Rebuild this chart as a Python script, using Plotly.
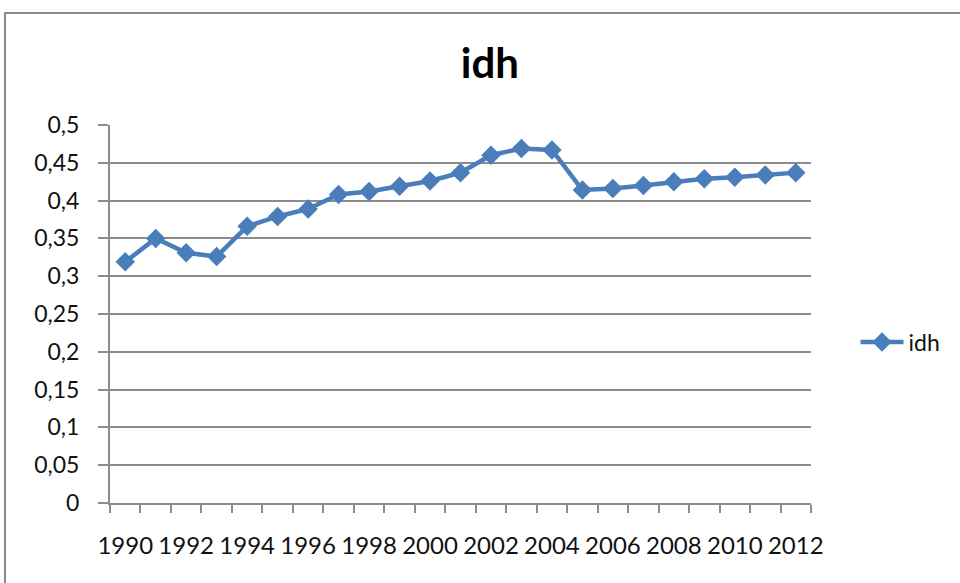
import plotly.graph_objects as go

years = list(range(1990, 2013))
idh = [0.319, 0.350, 0.331, 0.326, 0.366, 0.379, 0.389, 0.408, 0.412, 0.419,
       0.426, 0.437, 0.460, 0.469, 0.467, 0.414, 0.416, 0.420, 0.425, 0.429,
       0.431, 0.434, 0.437]
series_name = "idh"
title_text = "idh"
x_labels = years[::2]
y_ticks = [0, 0.05, 0.1, 0.15, 0.2, 0.25, 0.3, 0.35, 0.4, 0.45, 0.5]

BLUE = "#4A7EBB"
GRID = "#8C8C8C"
FONT = "Lato"

fig = go.Figure()
fig.add_trace(go.Scatter(
    x=years, y=idh, name=series_name, mode="lines+markers",
    line=dict(color=BLUE, width=4.5),
    marker=dict(symbol="diamond", size=15, color=BLUE, line=dict(width=0)),
    showlegend=True,
))

boundaries = [y - 0.5 for y in years] + [years[-1] + 0.5]

fig.update_layout(
    width=960, height=583,
    margin=dict(l=110, r=149, t=125, b=80, pad=0),
    paper_bgcolor="white", plot_bgcolor="white",
    separators=", ",
    font=dict(family=FONT, size=23, color="#111111"),
    title=dict(text="<b>" + title_text + "</b>", xref="paper", x=0.542, xanchor="center",
               yref="container", y=1 - 63 / 583, yanchor="middle",
               font=dict(family=FONT, size=42, color="black")),
    showlegend=True,
    legend=dict(x=1.0635, xanchor="left", y=0.426, yanchor="middle",
                itemwidth=43,
                font=dict(family=FONT, size=23, color="#111111"),
                bgcolor="rgba(0,0,0,0)", borderwidth=0),
    xaxis=dict(
        range=[boundaries[0], boundaries[-1]],
        tickvals=x_labels, ticktext=[str(v) for v in x_labels],
        tickfont=dict(size=24),
        ticks="outside", ticklen=20, tickcolor="rgba(0,0,0,0)",
        showgrid=False, zeroline=False,
        showline=True, linecolor=GRID, linewidth=2,
        minor=dict(tickvals=boundaries, ticks="outside", ticklen=8,
                   tickcolor=GRID, tickwidth=2, showgrid=False),
    ),
    yaxis=dict(
        range=[0, 0.5], tickvals=y_ticks,
        ticks="outside", ticklen=10, tickcolor=GRID, tickwidth=2,
        ticklabelstandoff=14,
        showgrid=True, gridcolor=GRID, gridwidth=1.5,
        zeroline=False, showline=True, linecolor=GRID, linewidth=2,
    ),
    shapes=[dict(type="rect", xref="paper", yref="paper",
                 x0=(5 - 110) / 701, x1=(975 - 110) / 701,
                 y0=(503 - 600) / 378, y1=(503 - 13) / 378,
                 line=dict(color="#8A8A8A", width=2), fillcolor="rgba(0,0,0,0)",
                 layer="below")],
)

fig.write_html("out.html", config={"displayModeBar": False},
               post_script="document.body.style.margin='0';document.body.style.overflow='hidden';")
